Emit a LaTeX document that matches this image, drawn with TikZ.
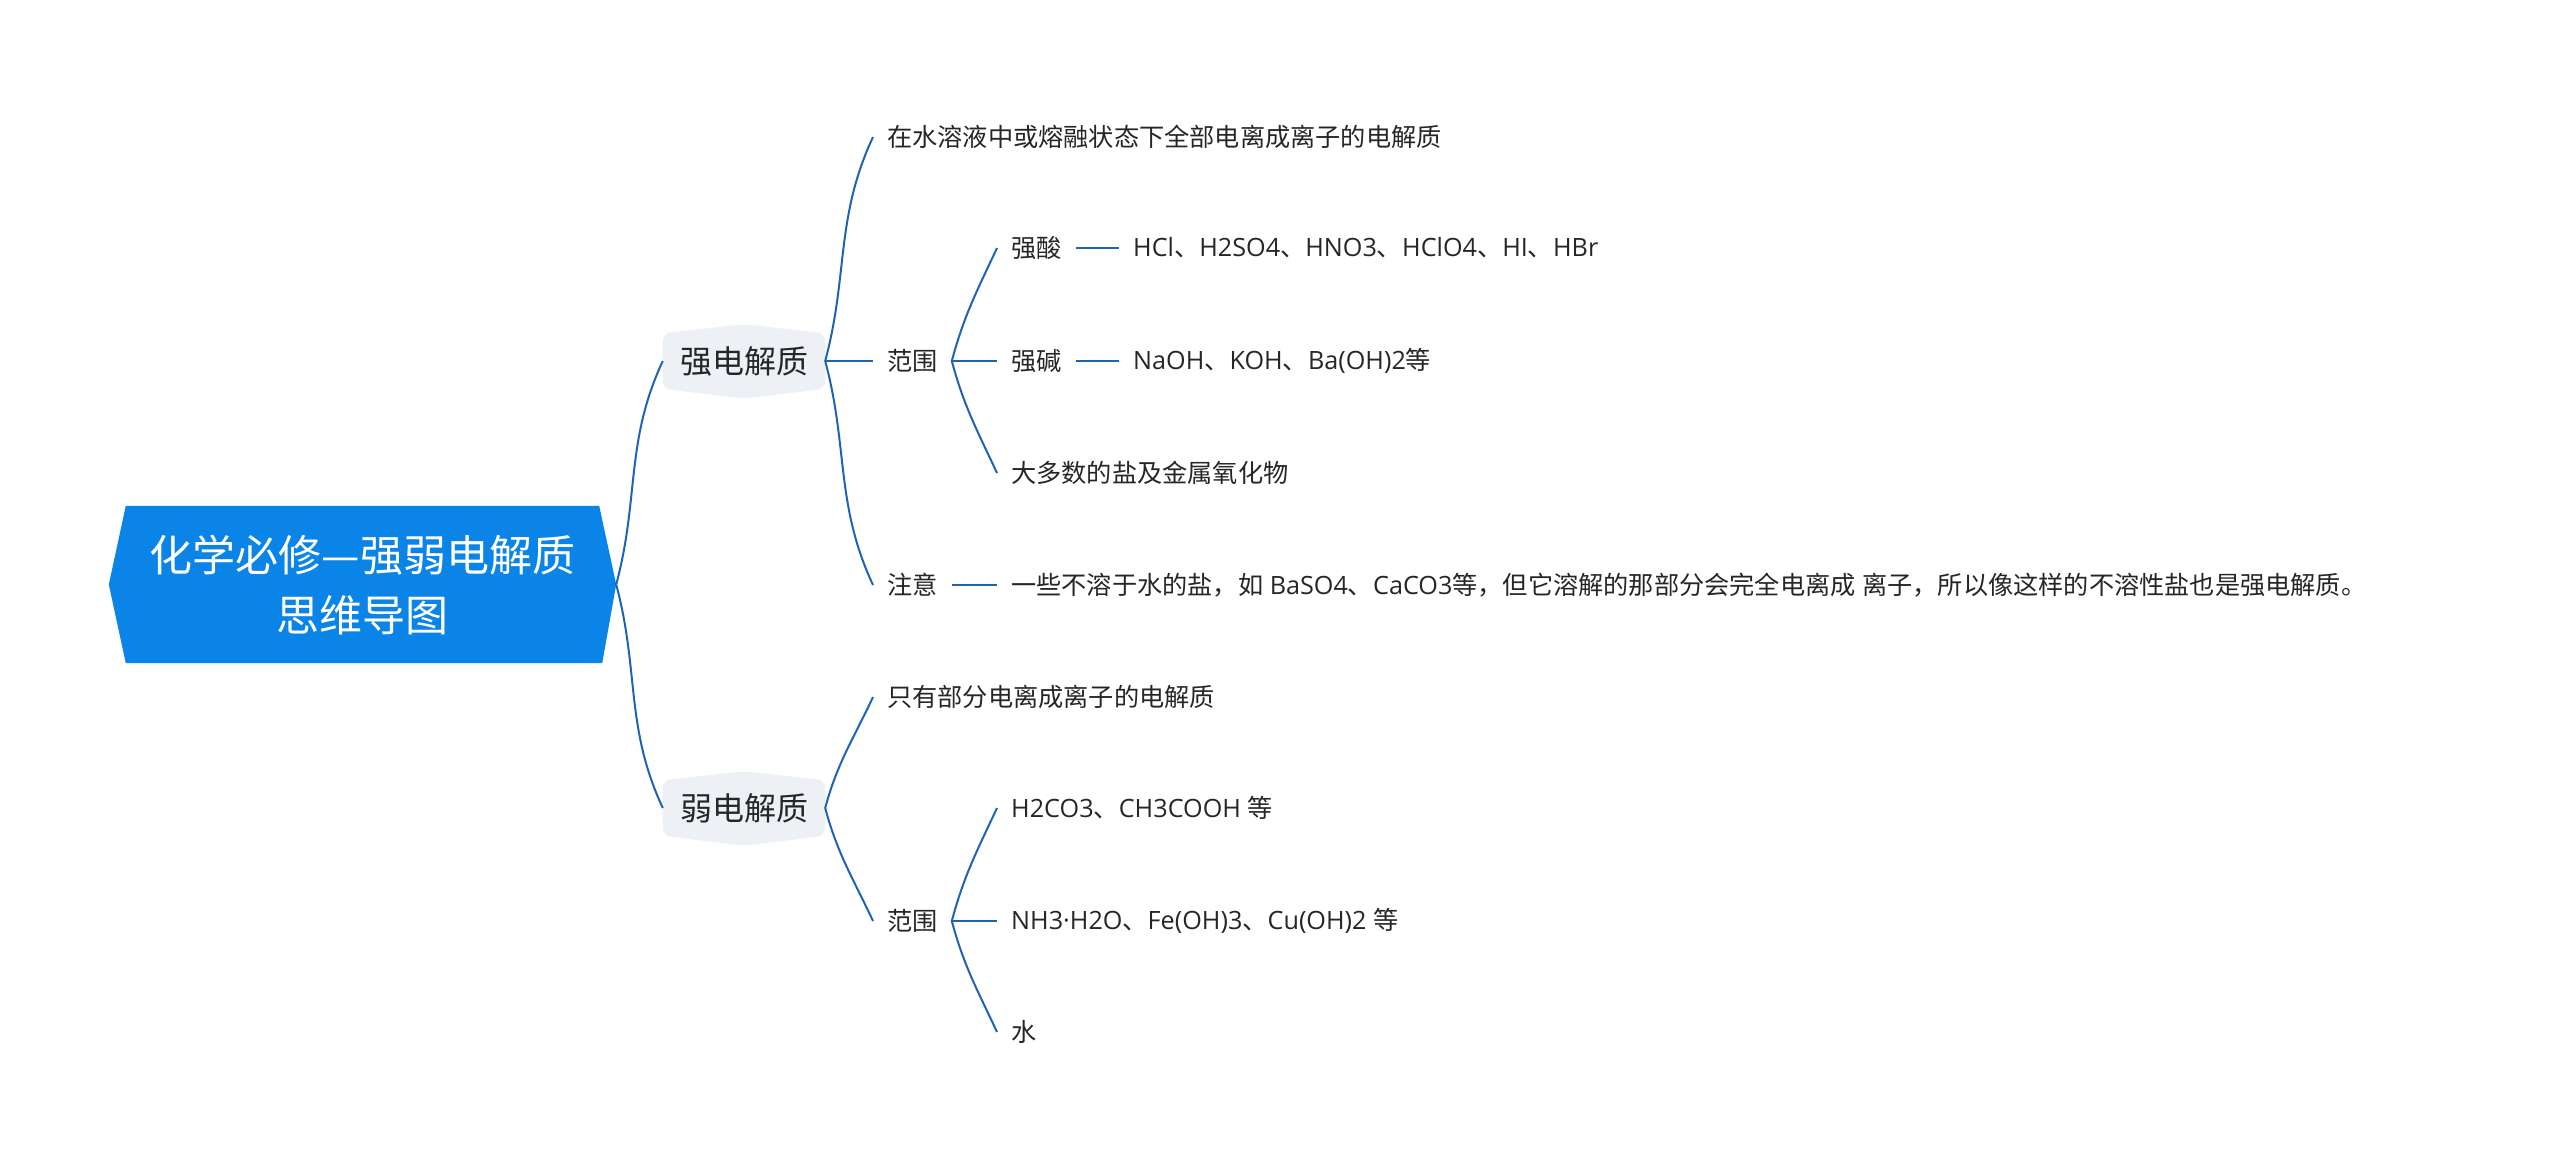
\documentclass[tikz,border=0pt]{standalone}
\usepackage{fontspec}
\setmainfont{Noto Sans CJK SC}
\newfontfamily\lt{Open Sans}
\usetikzlibrary{calc}
\pgfdeclarelayer{bg}
\pgfsetlayers{bg,main}
\definecolor{rootblue}{HTML}{0B84E8}
\definecolor{lineblue}{HTML}{1F64B4}
\definecolor{lvlgray}{HTML}{EDF0F4}
\definecolor{txt}{HTML}{262626}
\tikzset{
  leaf/.style={anchor=west, inner xsep=14pt, inner ysep=2pt, text=txt, font=\fontsize{25.2}{30}\selectfont},
  lvlone/.style={minimum width=162pt, minimum height=55pt, inner sep=0pt, text=txt, font=\fontsize{32}{38}\selectfont},
  conn/.style={draw=lineblue, line width=2pt},
  goup/.style={out=75,in=-115},
  godown/.style={out=-75,in=115},
}
\begin{document}
\begin{tikzpicture}[x=1pt,y=-1pt]
\useasboundingbox (0,0) rectangle (2560,1171);
\begin{pgfonlayer}{bg}
\fill[white] (0,0) rectangle (2560,1171);
\end{pgfonlayer}

% root
\node[minimum width=473pt, minimum height=157pt, inner sep=0pt, text=white, align=center,
      font=\fontsize{43}{60}\selectfont] (root) at (362.5,584.5) {化学必修—强弱电解质\\思维导图};
\begin{pgfonlayer}{bg}
\fill[rootblue] (root.north west) -- (root.north east) -- ($(root.east)+(17,0)$)
  -- ($(root.south east)+(3,0)$) -- (root.south west) -- ($(root.west)+(-17,0)$) -- cycle;
\end{pgfonlayer}
\coordinate (rootR) at ($(root.east)+(17,0)$);

% level one
\node[lvlone] (s) at (744,361) {强电解质};
\node[lvlone] (w) at (744,808) {弱电解质};
\begin{pgfonlayer}{bg}
\foreach \n in {s,w}{
  \fill[lvlgray, rounded corners=8pt] (\n.north west) -- ($(\n.north)+(0,-9)$) -- (\n.north east)
    -- (\n.south east) -- ($(\n.south)+(0,10)$) -- (\n.south west) -- cycle;
}
\end{pgfonlayer}
\draw[conn] (rootR) to[goup] (s.west);
\draw[conn] (rootR) to[godown] (w.west);

% strong electrolyte branch
\node[leaf] (a1) at (873,137) {在水溶液中或熔融状态下全部电离成离子的电解质};
\node[leaf] (a2) at (873,361) {范围};
\node[leaf] (a3) at (873,585) {注意};
\draw[conn] (s.east) to[goup] (a1.west);
\draw[conn] (s.east) -- (a2.west);
\draw[conn] (s.east) to[godown] (a3.west);

\node[leaf] (b1) at (997,248) {强酸};
\node[leaf] (b2) at (997,361) {强碱};
\node[leaf] (b3) at (997,473) {大多数的盐及金属氧化物};
\draw[conn] (a2.east) to[goup] (b1.west);
\draw[conn] (a2.east) -- (b2.west);
\draw[conn] (a2.east) to[godown] (b3.west);

\node[leaf] (c1) at (1119,248) {{\lt HCl}、{\lt H2SO4}、{\lt HNO3}、{\lt HClO4}、{\lt HI}、{\lt HBr}};
\node[leaf] (c2) at (1119,361) {{\lt NaOH}、{\lt KOH}、{\lt Ba(OH)2}等};
\draw[conn] (b1.east) -- (c1.west);
\draw[conn] (b2.east) -- (c2.west);

\node[leaf] (c3) at (997,585) {一些不溶于水的盐，如{\lt\ BaSO4}、{\lt CaCO3}等，但它溶解的那部分会完全电离成{\lt\ }离子，所以像这样的不溶性盐也是强电解质。};
\draw[conn] (a3.east) -- (c3.west);

% weak electrolyte branch
\node[leaf] (d1) at (873,697) {只有部分电离成离子的电解质};
\node[leaf] (d2) at (873,921) {范围};
\draw[conn] (w.east) to[goup] (d1.west);
\draw[conn] (w.east) to[godown] (d2.west);

\node[leaf] (e1) at (997,808) {{\lt H2CO3}、{\lt CH3COOH }等};
\node[leaf] (e2) at (997,921) {{\lt NH3·H2O}、{\lt Fe(OH)3}、{\lt Cu(OH)2 }等};
\node[leaf] (e3) at (997,1032) {水};
\draw[conn] (d2.east) to[goup] (e1.west);
\draw[conn] (d2.east) -- (e2.west);
\draw[conn] (d2.east) to[godown] (e3.west);
\end{tikzpicture}
\end{document}
